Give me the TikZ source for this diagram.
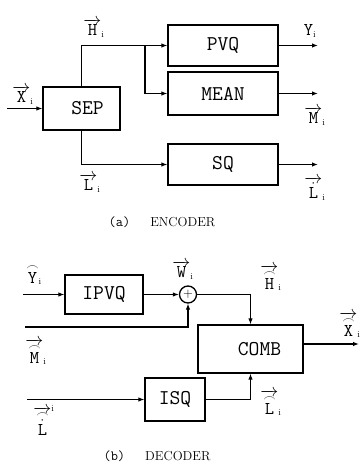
\RequirePackage{fix-cm}
\documentclass[tikz,border=0pt]{standalone}
\usepackage{fontspec}
\usetikzlibrary{arrows.meta}

\newcommand{\boxfnt}{\ttfamily\fontsize{21}{23}\selectfont\addfontfeatures{LetterSpace=8}}
\newcommand{\lblfnt}{\fontsize{18}{20}\selectfont}
% hat as a wide arc, index as a small roman i
\newcommand{\hatarc}[1]{{\stackrel{\frown}{#1}}}
\newcommand{\ix}{\mathrm{\scriptscriptstyle i}}

\tikzset{
  blk/.style={draw, line width=1.3pt, inner sep=0pt, font=\boxfnt},
  lbl/.style={inner sep=0pt, anchor=base, font=\lblfnt},
  sig/.style={line width=1.1pt, -{Latex[length=6pt,width=4.5pt]}},
  captxt/.style={inner sep=0pt, anchor=base, font=\fontsize{13}{15}\selectfont}
}

\begin{document}
\begin{tikzpicture}[x=1pt,y=-1pt]
  \useasboundingbox (0,0) rectangle (360,463);

  % --- (a) encoder ---
  \node[blk, minimum width=77pt, minimum height=43pt] (sep) at (81.5,108.5) {\hspace*{12pt}SEP};
  \node[blk, minimum width=110pt, minimum height=41pt] (pvq) at (223,45.5) {PVQ};
  \node[blk, minimum width=110pt, minimum height=43pt] (mean) at (223,93.5) {MEAN};
  \node[blk, minimum width=110pt, minimum height=41pt] (sq) at (223,164.5) {SQ};

  \coordinate (xin) at (7,108.5);
  \coordinate (hbr) at (145,45.5);
  \coordinate (yout) at (318,45.5);
  \coordinate (mout) at (318,93.5);
  \coordinate (lout) at (318,164.5);

  \draw[sig] (xin) -- (sep.west);
  \draw[sig] (sep.north) |- (pvq.west);
  \draw[sig] (hbr) |- (mean.west);
  \draw[sig] (sep.south) |- (sq.west);
  \draw[sig] (pvq.east) -- (yout);
  \draw[sig] (mean.east) -- (mout);
  \draw[sig] (sq.east) -- (lout);

  \node[lbl] (xlbl) at (23,102) {$\overrightarrow{\mathtt{X}}_{\ix}$};
  \node[lbl] (hlbl) at (94,35) {$\overrightarrow{\mathtt{H}}_{\ix}$};
  \node[lbl] (ylbl) at (310,35) {$\mathtt{Y}_{\ix}$};
  \node[lbl] (mlbl) at (315,123) {$\overrightarrow{\mathtt{M}}_{\ix}$};
  \node[lbl] (llbl) at (90,190) {$\overrightarrow{\mathtt{L}}_{\ix}$};
  \node[lbl] (ldlbl) at (315,198) {$\overrightarrow{\dot{\mathtt{L}}}_{\ix}$};

  \node[captxt] (capa) at (162,226) {{\ttfamily\fontsize{14}{16}\selectfont (a)}\hspace{20pt}ENCODER};

  % --- (b) decoder ---
  \node[blk, minimum width=78pt, minimum height=39pt] (ipvq) at (104,294.5) {IPVQ};
  \node[circle, draw, line width=1.3pt, minimum size=17pt, inner sep=0pt] (sum) at (188,294.5) {\fontsize{13}{13}\selectfont$+$};
  \node[blk, minimum width=105pt, minimum height=48pt] (comb) at (250.5,349) {\hspace*{18pt}COMB};
  \node[blk, minimum width=60pt, minimum height=43pt] (isq) at (175,399.5) {ISQ};

  \coordinate (yin) at (23,294.5);
  \coordinate (min) at (25,327);
  \coordinate (lin) at (27,399.5);
  \coordinate (xout) at (359,344);

  \draw[sig] (yin) -- (ipvq.west);
  \draw[sig] (ipvq.east) -- (sum.west);
  \draw[sig] (min) -| (sum.south);
  \draw[sig] (sum.east) -| (comb.north);
  \draw[sig] (lin) -- (isq.west);
  \draw[sig] (isq.east) -| (comb.south);
  \draw[sig] (comb.east |- xout) -- (xout);

  \node[lbl] (yhlbl) at (34,282) {$\hatarc{\mathtt{Y}}_{\ix}$};
  \node[lbl] (wlbl) at (183,277) {$\overrightarrow{\mathtt{W}}_{\ix}$};
  \node[lbl] (hhlbl) at (271,288) {$\overrightarrow{\hatarc{\mathtt{H}}}_{\ix}$};
  \node[lbl] (xhlbl) at (350,335) {$\overrightarrow{\hatarc{\mathtt{X}}}_{\ix}$};
  \node[lbl] (mhlbl) at (36,362) {$\overrightarrow{\hatarc{\mathtt{M}}}_{\ix}$};
  \node[lbl] (lhlbl) at (271,413) {$\overrightarrow{\hatarc{\mathtt{L}}}_{\ix}$};
  \node[lbl] (ldhlbl) at (44,435) {$\overrightarrow{\hatarc{\dot{\mathtt{L}}}}^{\ix}$};

  \node[captxt] (capb) at (157,460) {{\ttfamily\fontsize{14}{16}\selectfont (b)}\hspace{20pt}DECODER};
\end{tikzpicture}
\end{document}
